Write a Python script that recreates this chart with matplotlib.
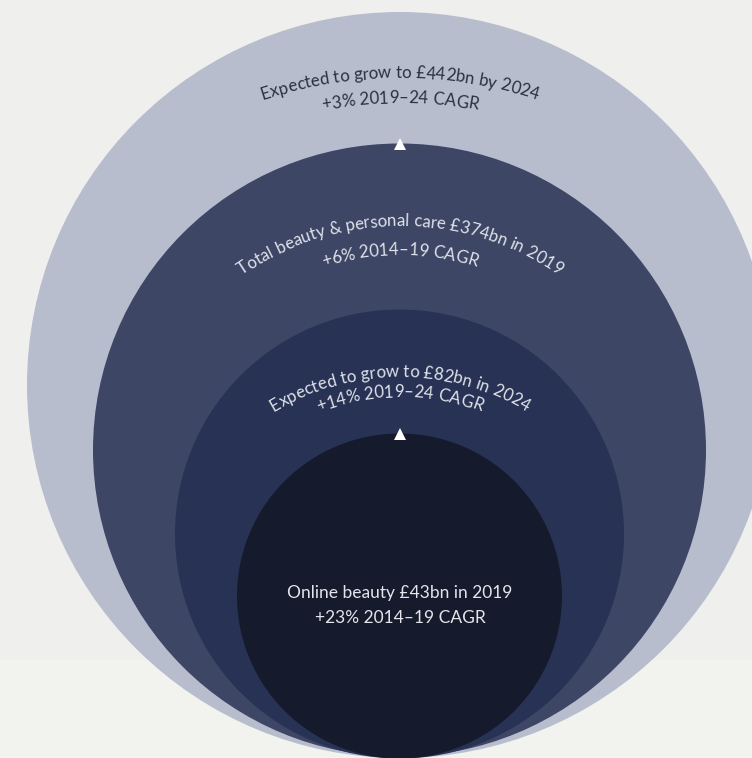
import numpy as np
import matplotlib
import matplotlib.pyplot as plt
from matplotlib.patches import Circle, Rectangle
from matplotlib import font_manager, ft2font

matplotlib.use("Agg")

# Rings, outer to inner
ring_names = ["Beauty 2024", "Beauty 2019", "Online 2024", "Online 2019"]
ring_colors = ["#b8bdce", "#3e4665", "#283254", "#151a2c"]
ring_cx = [400, 399.5, 399.5, 399.5]
ring_cy = [385, 450, 534, 596]
ring_r = [373, 306.5, 224.5, 162.5]

# Curved labels: (text, arc centre x, arc centre y, radius, colour)
arc_texts = ["Expected to grow to £442bn by 2024", "+3% 2019–24 CAGR",
             "Total beauty & personal care £374bn in 2019", "+6% 2014–19 CAGR",
             "Expected to grow to £82bn in 2024", "+14% 2019–24 CAGR"]
arc_cx = [400, 400, 400, 400, 400, 400]
arc_cy = [518, 518, 505, 505, 622, 622]
arc_r = [440, 415, 279, 250, 245, 225]
arc_colors = ["#2b3040", "#2b3040", "#dfe2ea", "#dfe2ea", "#dfe2ea", "#dfe2ea"]

centre_lines = ["Online beauty £43bn in 2019", "+23% 2014–19 CAGR"]

# growth arrows (white triangles)
arrow_x = [400, 400]
arrow_y = [144, 434]

FONT = "Lato"
FS = 12.2
DPI = 100

fig = plt.figure(figsize=(7.52, 7.58), dpi=DPI)
fig.patch.set_facecolor("#efefed")
ax = fig.add_axes([0, 0, 1, 1])
ax.set_xlim(0, 752)
ax.set_ylim(758, 0)
ax.set_aspect("equal")
ax.axis("off")

# lighter band at the bottom
ax.add_patch(Rectangle((0, 660), 752, 98, color="#f2f2ef", zorder=0))

for c, cx, cy, r in zip(ring_colors, ring_cx, ring_cy, ring_r):
    ax.add_patch(Circle((cx, cy), r, color=c, zorder=1, lw=0))

# font advances for laying text along an arc
font_path = font_manager.findfont(font_manager.FontProperties(family=FONT))
ftfont = ft2font.FT2Font(font_path)
ftfont.set_size(FS, DPI)


def advance(ch):
    g = ftfont.load_char(ord(ch))
    return g.linearHoriAdvance / 65536.0


def curved_text(text, cx, cy, r, color):
    adv = [advance(ch) for ch in text]
    total = sum(adv)
    s = 0.0
    for ch, a in zip(text, adv):
        mid = s + a / 2 - total / 2
        th = mid / r
        x = cx + r * np.sin(th)
        y = cy - r * np.cos(th)
        ax.text(x, y, ch, fontsize=FS, family=FONT, color=color,
                ha="center", va="baseline", rotation=-np.degrees(th),
                rotation_mode="anchor", zorder=3)
        s += a


for t, cx, cy, r, col in zip(arc_texts, arc_cx, arc_cy, arc_r, arc_colors):
    curved_text(t, cx, cy, r, col)

ax.text(400, 598, centre_lines[0], fontsize=12.5, family=FONT, color="#e4e5eb",
        ha="center", va="baseline", zorder=3)
ax.text(400, 623, centre_lines[1], fontsize=12.5, family=FONT, color="#e4e5eb",
        ha="center", va="baseline", zorder=3)

ax.plot(arrow_x, arrow_y, linestyle="none", marker="^", markersize=9,
        color="white", markeredgewidth=0, zorder=4)

fig.savefig("out.png", dpi=DPI, facecolor=fig.get_facecolor())
